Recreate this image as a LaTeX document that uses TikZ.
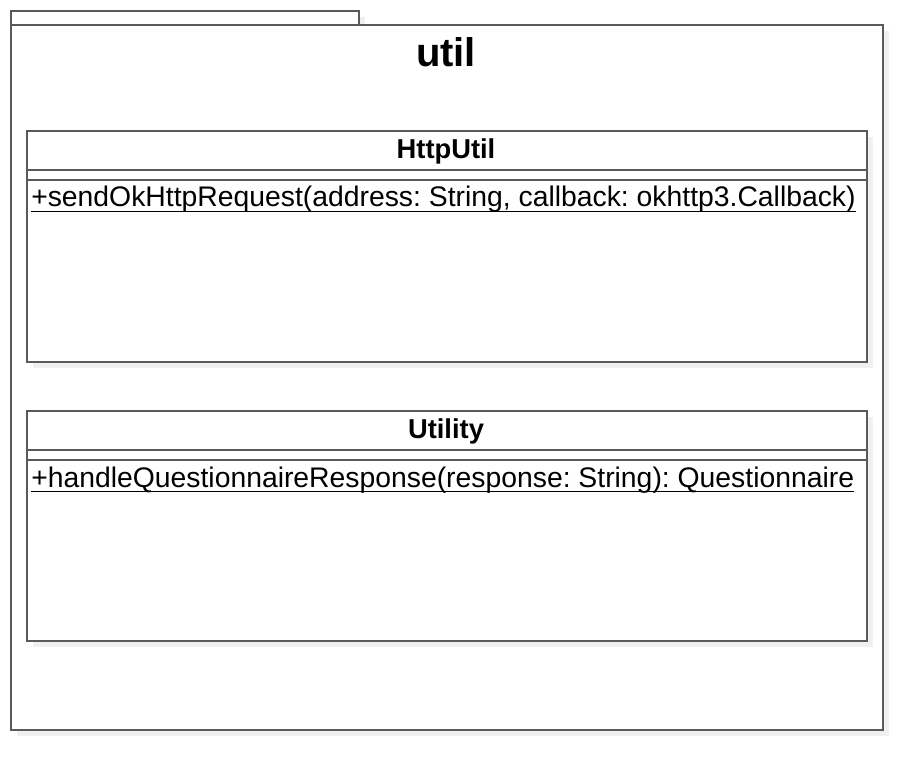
\documentclass[tikz,border=0pt]{standalone}
\usepackage{fontspec}
\setmainfont{Liberation Sans}
\usetikzlibrary{shadows}
\definecolor{umlline}{HTML}{5A5A5A}
\definecolor{umlshadow}{HTML}{F0F0F0}
\frenchspacing
% static operation: underlined text
\newcommand\umlstatic[1]{\setbox0\hbox{#1}\rlap{\rule[-3.6pt]{\wd0}{0.9pt}}\box0}
\begin{document}
\begin{tikzpicture}[
      x=0.75pt,
      y=-0.75pt,
      umlbox/.style={draw=umlline, line width=1.2pt, fill=white, rectangle,
        anchor=north west, inner sep=0pt,
        drop shadow={shadow xshift=5pt, shadow yshift=-5pt, fill=umlshadow, opacity=1}},
      classname/.style={font=\bfseries\fontsize{20.5}{24}\selectfont, inner sep=0pt},
      method/.style={font=\fontsize{21.25}{24}\selectfont, anchor=base west, inner sep=0pt}]
    \useasboundingbox (0,0) rectangle (922,770);

    % package util
    \node [umlbox, minimum width=261pt, minimum height=10.5pt] (tab) at (10,10) {};
    \node [umlbox, minimum width=654pt, minimum height=528.75pt] (pkg) at (10,24) {};
    \node [font=\bfseries\fontsize{30}{36}\selectfont, inner sep=0pt] (title) at (446,52) {util};

    % class HttpUtil
    \node [umlbox, minimum width=630pt, minimum height=173.25pt] (httputil) at (26,130) {};
    \draw [umlline, line width=1.2pt] (26,170) -- (866,170);
    \draw [umlline, line width=1.2pt] (26,180) -- (866,180);
    \node [classname] (httputilname) at (446,151) {HttpUtil};
    \node [method] (sendreq) at (31,207)
      {\umlstatic{+sendOkHttpRequest(address: String, callback: okhttp3.Callback)}};

    % class Utility
    \node [umlbox, minimum width=630pt, minimum height=172.5pt] (utility) at (26,410) {};
    \draw [umlline, line width=1.2pt] (26,450) -- (866,450);
    \draw [umlline, line width=1.2pt] (26,460) -- (866,460);
    \node [classname] (utilityname) at (446,431) {Utility};
    \node [method] (handleresp) at (31,487)
      {\umlstatic{+handleQuestionnaireResponse(response: String): Questionnaire}};

  \end{tikzpicture}
\end{document}
